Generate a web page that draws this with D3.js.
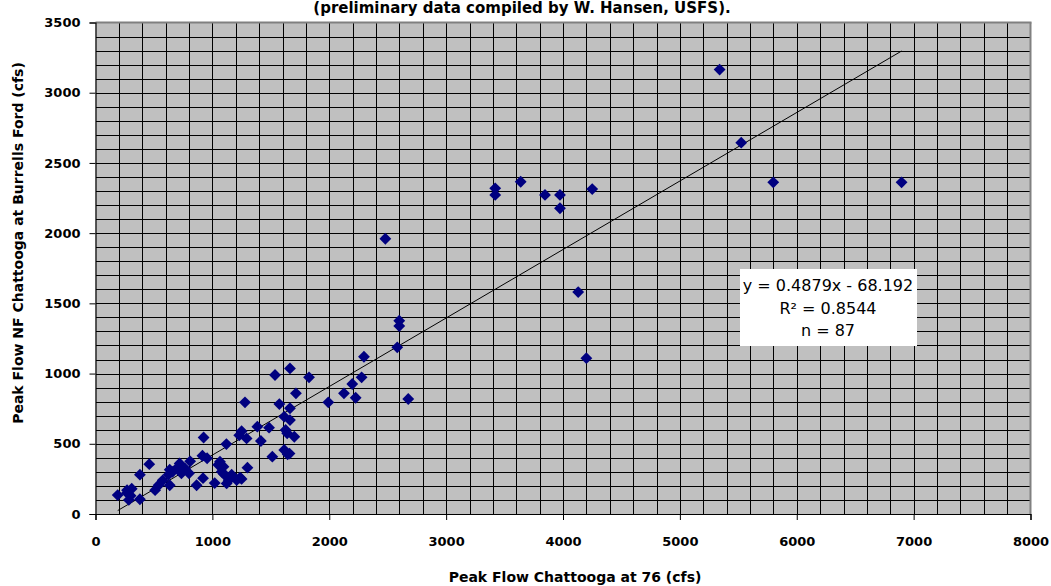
<!DOCTYPE html>
<html><head><meta charset="utf-8">
<script src="https://cdn.jsdelivr.net/npm/d3@7"></script>
<style>
html,body{margin:0;padding:0;background:#fff;}
svg text{font-family:"DejaVu Sans",sans-serif;}
</style></head>
<body><svg id="c" width="1051" height="586"></svg>
<script>
const titleText = "(preliminary data compiled by W. Hansen, USFS).";
const xTitle = "Peak Flow Chattooga at 76 (cfs)";
const yTitle = "Peak Flow NF Chattooga at Burrells Ford (cfs)";
const xTicks = [0,1000,2000,3000,4000,5000,6000,7000,8000];
const yTicks = [0,500,1000,1500,2000,2500,3000,3500];
const flow76 = [190,270,310,285,380,380,460,510,540,575,625,635,635,720,735,765,810,800,865,925,915,955,920,1020,1065,1095,1120,1122,1165,1236,1208,1080,1100,1300,1250,1293,1385,1485,1415,1615,1664,1627,1701,1640,1513,1615,1644,1279,1573,1664,1536,1664,1827,1715,1992,2126,2226,2197,2277,2297,2582,2599,2599,2676,2480,3420,3420,3638,3846,3974,3974,4250,4130,4200,5340,5525,5799,6897,1250,1140,300,700,1660,1230,660,1050,270];
const flowNF = [135,150,180,100,105,280,355,170,205,240,280,315,205,360,290,325,375,290,205,545,415,397,255,220,372,337,498,218,280,258,242,300,283,330,590,538,622,615,520,693,669,598,550,575,408,456,425,795,783,753,990,1037,973,859,795,859,828,926,973,1120,1187,1376,1339,819,1960,2319,2272,2366,2272,2272,2177,2314,1580,1110,3165,2644,2362,2362,250,240,130,330,430,560,300,350,170];
const trendSlope = [0.4879];
const trendIntercept = [-68.192];
const trendRange = [190, 6897];
const legendLines = ["y = 0.4879x - 68.192","R\u00b2 = 0.8544","n = 87"];

const svg = d3.select("#c");
const L=95.5, R=1030.5, T=22.5, B=514;
const x = d3.scaleLinear().domain([0,8000]).range([L,R]);
const y = d3.scaleLinear().domain([0,3500]).range([B,T]);

svg.append("rect").attr("x",0).attr("y",0).attr("width",1051).attr("height",586).attr("fill","#fff");
svg.append("rect").attr("x",L).attr("y",T).attr("width",R-L).attr("height",B-T).attr("fill","#c0c0c0");

// grid
const g = svg.append("g").attr("stroke","#000").attr("stroke-width",1).attr("shape-rendering","crispEdges");
d3.range(200,8000,200).forEach(v=>{
  g.append("line").attr("x1",Math.round(x(v))+0.5).attr("x2",Math.round(x(v))+0.5).attr("y1",T).attr("y2",B);
});
d3.range(100,3500,100).forEach(v=>{
  g.append("line").attr("x1",L).attr("x2",R).attr("y1",Math.round(y(v))+0.5).attr("y2",Math.round(y(v))+0.5);
});
// border top/right
svg.append("line").attr("x1",L).attr("x2",R+1).attr("y1",T).attr("y2",T).attr("stroke","#808080").attr("stroke-width",2);
svg.append("line").attr("x1",R).attr("x2",R).attr("y1",T).attr("y2",B).attr("stroke","#808080").attr("stroke-width",2);

// axes
const ax = svg.append("g").attr("transform",`translate(0,${B})`)
  .call(d3.axisBottom(x).tickValues(xTicks).tickSize(6).tickPadding(17).tickFormat(d3.format("d")));
const ay = svg.append("g").attr("transform",`translate(${L},0)`)
  .call(d3.axisLeft(y).tickValues(yTicks).tickSize(6).tickPadding(9).tickFormat(d3.format("d")));
[ax,ay].forEach(a=>{
  a.selectAll("path").attr("stroke","#000").attr("stroke-width",1.2);
  a.selectAll("line").attr("stroke","#000");
  a.selectAll("text").attr("font-size",13).attr("font-weight","bold").attr("fill","#000")
   .attr("font-family","'DejaVu Sans',sans-serif");
});

// trend line
svg.append("line")
  .attr("x1",x(trendRange[0])).attr("y1",y(trendSlope[0]*trendRange[0]+trendIntercept[0]))
  .attr("x2",x(trendRange[1])).attr("y2",y(trendSlope[0]*trendRange[1]+trendIntercept[0]))
  .attr("stroke","#000").attr("stroke-width",1);

// points
const sym = d3.symbol().type(d3.symbolSquare).size(70);
svg.append("g").selectAll("path").data(flow76.map((v,i)=>[v,flowNF[i]])).join("path")
  .attr("d",sym).attr("transform",d=>`translate(${x(d[0])},${y(d[1])}) rotate(45)`)
  .attr("fill","#000080");

// legend box
svg.append("rect").attr("x",740).attr("y",269).attr("width",177).attr("height",77).attr("fill","#fff");
svg.append("g").selectAll("text").data(legendLines).join("text")
  .attr("x",828).attr("y",(d,i)=>291+i*22.7).attr("text-anchor","middle")
  .attr("font-size",16).attr("fill","#000").text(d=>d);

// titles
svg.append("text").attr("x",522).attr("y",13).attr("text-anchor","middle")
  .attr("font-size",15).attr("font-weight","bold").text(titleText);
svg.append("text").attr("x",575).attr("y",582).attr("text-anchor","middle")
  .attr("font-size",14).attr("font-weight","bold").text(xTitle);
svg.append("text").attr("transform","translate(23,243) rotate(-90)").attr("text-anchor","middle")
  .attr("font-size",14).attr("font-weight","bold").text(yTitle);
</script></body></html>
